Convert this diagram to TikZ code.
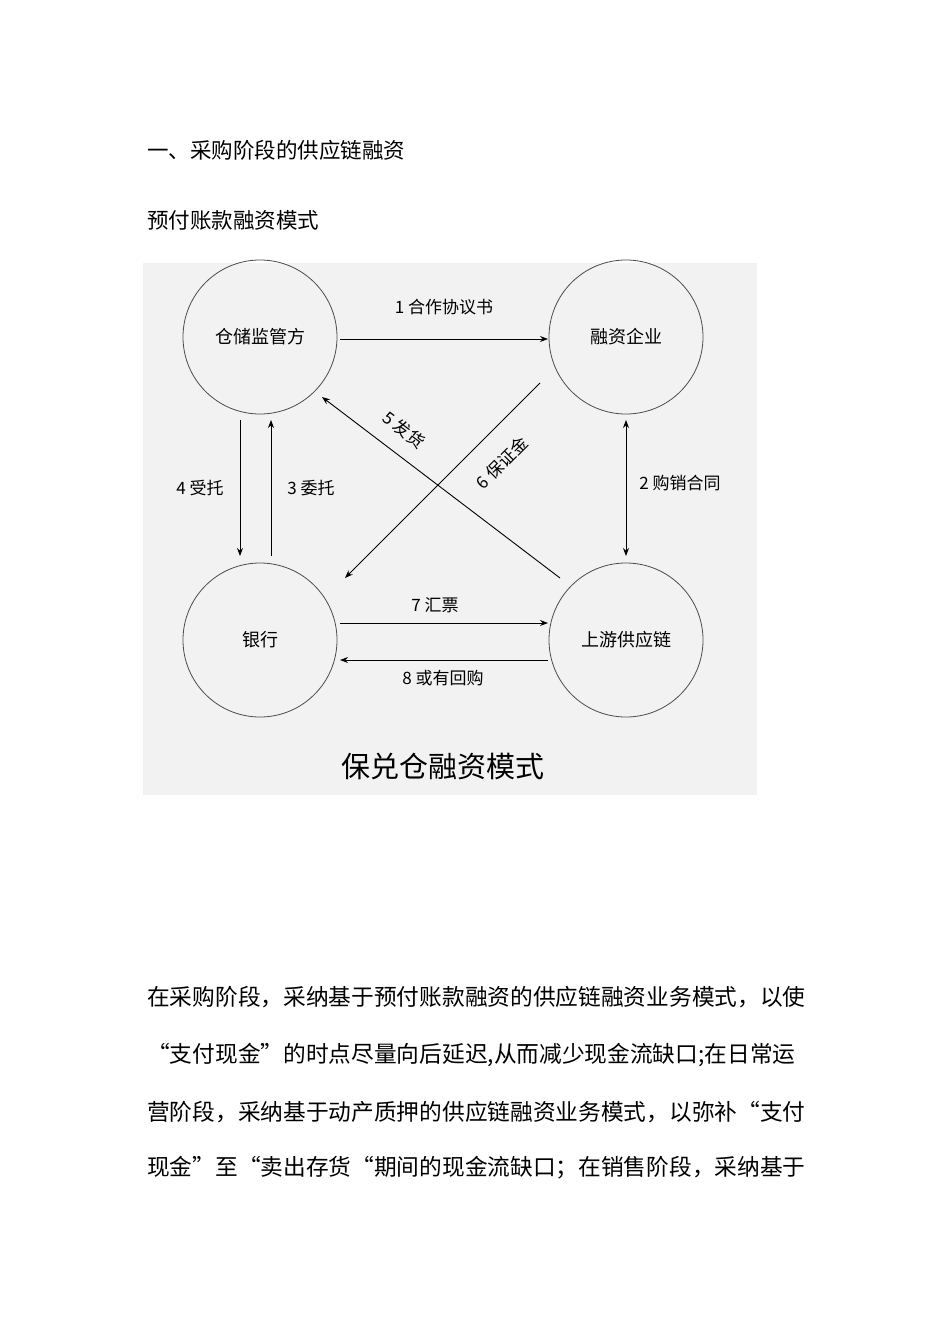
\documentclass[tikz,border=0pt]{standalone}
\usepackage{fontspec}
\setmainfont{Noto Sans CJK SC}
\usetikzlibrary{arrows.meta}
\begin{document}
\begin{tikzpicture}[x=1pt,y=-1pt,
 circ/.style={draw=black!70,line width=0.8pt,circle,minimum size=154pt,font=\fontsize{18}{18}\selectfont},
 arr/.style={-{Stealth[length=8pt,width=6pt]},line width=0.9pt},
 lbl/.style={font=\fontsize{17}{17}\selectfont},
 para/.style={anchor=west,font=\fontsize{22.7}{22.7}\selectfont,inner sep=0pt}]
\useasboundingbox[fill=white] (0,0) rectangle (950,1344);
\node[anchor=west,font=\fontsize{21.5}{21.5}\selectfont,inner sep=0] (h1) at (147,150) {一、采购阶段的供应链融资};
\node[anchor=west,font=\fontsize{21.5}{21.5}\selectfont,inner sep=0] (h2) at (147,220) {预付账款融资模式};
\fill[black!5] (143,263) rectangle (757,795);
\node[circ] (w) at (260,337) {仓储监管方};
\node[circ] (r) at (626,337) {融资企业};
\node[circ] (b) at (260,640) {银行};
\node[circ] (s) at (626,640) {上游供应链};
\coordinate (a1s) at (340,339); \coordinate (a1e) at (548,339);
\draw[arr] (a1s) -- (a1e) node[lbl,midway,above=20pt] {1 合作协议书};
\coordinate (a2s) at (626,420); \coordinate (a2e) at (626,556);
\draw[arr,{Stealth[length=8pt,width=6pt]}-{Stealth[length=8pt,width=6pt]}] (a2s) -- (a2e);
\node[lbl] (l2) at (680,483) {2 购销合同};
\coordinate (a4s) at (240,420); \coordinate (a4e) at (240,556);
\draw[arr] (a4s) -- (a4e); \node[lbl] (l4) at (200,488) {4 受托};
\coordinate (a3s) at (271,556); \coordinate (a3e) at (271,420);
\draw[arr] (a3s) -- (a3e); \node[lbl] (l3) at (311,488) {3 委托};
\coordinate (a5s) at (560,578); \coordinate (a5e) at (322,397);
\draw[arr] (a5s) -- (a5e); \node[lbl,rotate=-37] (l5) at (404,430) {5 发货};
\coordinate (a6s) at (540,383); \coordinate (a6e) at (345,578);
\draw[arr] (a6s) -- (a6e); \node[lbl,rotate=45] (l6) at (502,463) {6 保证金};
\coordinate (a7s) at (340,623); \coordinate (a7e) at (548,623);
\draw[arr] (a7s) -- (a7e); \node[lbl] (l7) at (435,605) {7 汇票};
\coordinate (a8s) at (548,660); \coordinate (a8e) at (340,660);
\draw[arr] (a8s) -- (a8e); \node[lbl] (l8) at (443,678) {8 或有回购};
\node[font=\fontsize{29}{29}\selectfont] (t) at (443,766) {保兑仓融资模式};
\node[para] (p1) at (147,997) {在采购阶段，采纳基于预付账款融资的供应链融资业务模式，以使};
\node[para] (p2) at (147,1055) {“支付现金”的时点尽量向后延迟,从而减少现金流缺口;在日常运};
\node[para] (p3) at (147,1112) {营阶段，采纳基于动产质押的供应链融资业务模式，以弥补“支付};
\node[para] (p4) at (147,1168) {现金”至“卖出存货“期间的现金流缺口；在销售阶段，采纳基于};
\end{tikzpicture}
\end{document}
